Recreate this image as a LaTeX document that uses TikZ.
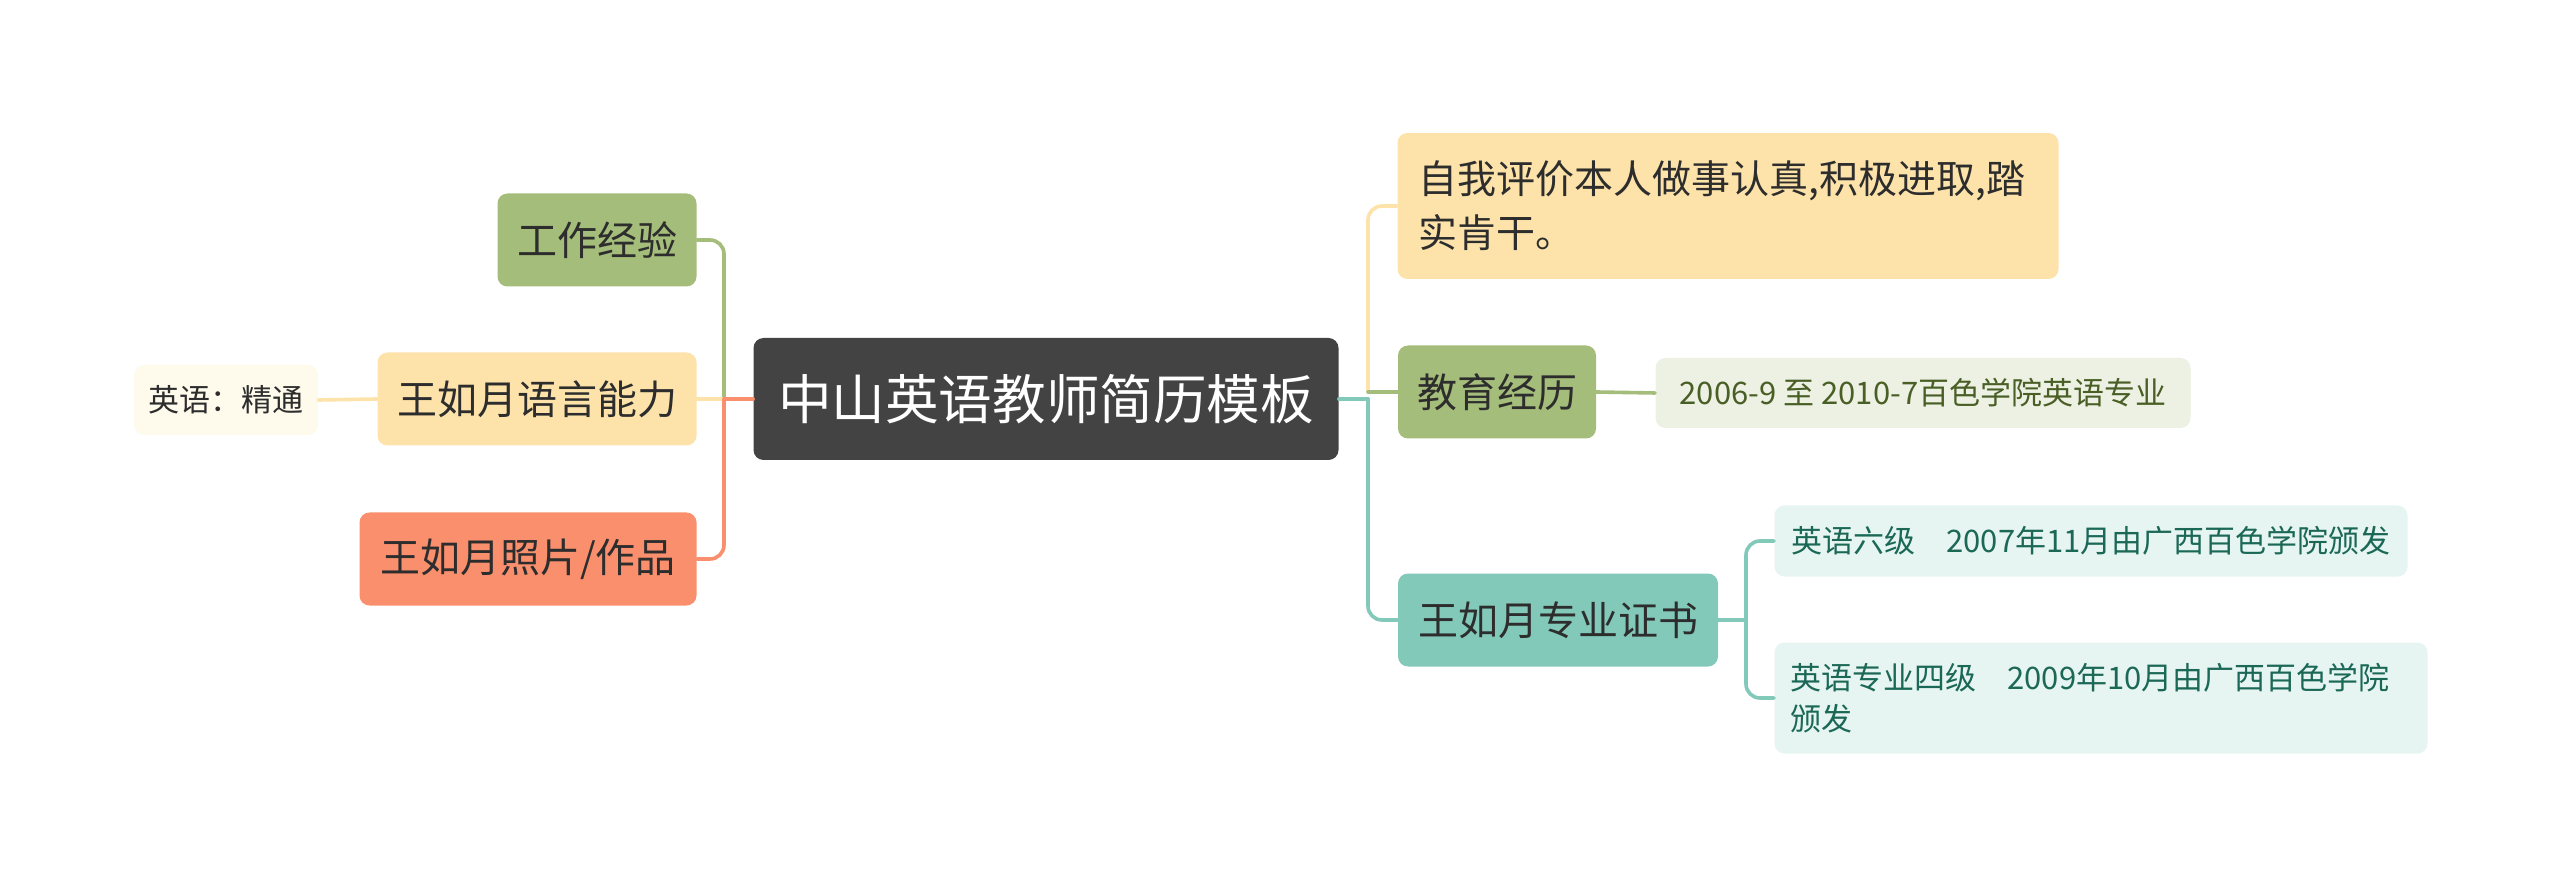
\documentclass[tikz,border=0pt]{standalone}
\usepackage{fontspec}
\newfontfamily\cjk{Noto Sans CJK SC}
\usepackage{xcolor}
\usepackage{tikz}
\usetikzlibrary{positioning}
\definecolor{rootgray}{RGB}{67,67,67}
\definecolor{leafgreen}{RGB}{165,189,122}
\definecolor{sand}{RGB}{253,227,170}
\definecolor{salmon}{RGB}{250,143,110}
\definecolor{mint}{RGB}{130,201,186}
\definecolor{cream}{RGB}{254,250,236}
\definecolor{palegreen}{RGB}{237,241,227}
\definecolor{olivetext}{RGB}{74,95,38}
\definecolor{palemint}{RGB}{230,245,242}
\definecolor{minttext}{RGB}{28,104,86}
\definecolor{ink}{RGB}{45,45,45}

\begin{document}
\begin{tikzpicture}[
  x=0.5pt, y=-0.5pt,
  rootbox/.style={fill=rootgray, text=white, rounded corners=5pt, inner sep=0pt,
    font=\cjk\fontsize{26.8}{32}\selectfont, minimum width=292.5pt, minimum height=61pt},
  mainbox/.style={rounded corners=5pt, text=ink, inner sep=0pt,
    font=\cjk\fontsize{20}{26}\selectfont, minimum height=46.5pt},
  subbox/.style={rounded corners=5pt, inner sep=0pt,
    font=\cjk\fontsize{15.5}{20.5}\selectfont, minimum height=35.5pt},
  link/.style={line width=1.8pt, rounded corners=7pt, line cap=round}
]

% page
\fill[white] (0,0) rectangle (2560,887);
\useasboundingbox (0,0) rectangle (2560,887);

% centre
\node[rootbox] (root) at (1046,399) {中山英语教师简历模板};

% left side
\node[mainbox, fill=leafgreen, minimum width=99.5pt] (work) at (597,240) {工作经验};
\node[mainbox, fill=sand, minimum width=159.5pt] (lang) at (537,399) {王如月语言能力};
\node[mainbox, fill=salmon, minimum width=168.5pt] (photo) at (528,559) {王如月照片/作品};
\node[subbox, fill=cream, text=ink, minimum width=92pt, minimum height=35pt] (skill) at (226,400) {英语：精通};

% right side
\node[mainbox, fill=sand, minimum height=73pt, text width=309.5pt, inner xsep=10.5pt,
  align=left, font=\cjk\fontsize{19.5}{27}\selectfont] (self) at (1728,206)
  {自我评价本人做事认真,积极进取,踏\\实肯干。};
\node[mainbox, fill=leafgreen, minimum width=99pt] (edu) at (1497,392) {教育经历};
\node[subbox, fill=palegreen, text=olivetext, minimum width=267.5pt, minimum height=35pt] (school) at (1923,393)
  {2006-9 至 2010-7百色学院英语专业};
\node[mainbox, fill=mint, minimum width=160pt] (cert) at (1558,620) {王如月专业证书};
\node[subbox, fill=palemint, text=minttext, minimum width=316.5pt] (cet6) at (2091,541)
  {英语六级　2007年11月由广西百色学院颁发};
\node[subbox, fill=palemint, text=minttext, minimum height=55.5pt, text width=310.5pt,
  inner xsep=8pt, align=left] (tem4) at (2101,698)
  {英语专业四级　2009年10月由广西百色学院\\颁发};

% junctions
\coordinate (lj) at (724,399);
\coordinate (rj) at (1368,399);
\coordinate (cj) at (1746,620);

% left links
\draw[link, draw=leafgreen] (work.east) -| (lj);
\draw[link, draw=sand] (skill.east) -- (lang.west);
\draw[link, draw=sand] (lang.east) -- (lj);
\draw[link, draw=salmon] (photo.east) -| (lj);
\draw[link, draw=salmon] (lj) -- (root.west);

% right links
\draw[link, draw=sand] (self.west) -| (edu.west -| rj);
\draw[link, draw=leafgreen] (edu.west -| rj) -- (edu.west);
\draw[link, draw=mint] (cert.west) -| (rj);
\draw[link, draw=mint] (rj) -- (root.east);
\draw[link, draw=leafgreen] (edu.east) -- (school.west);
\draw[link, draw=mint] (cert.east) -- (cj);
\draw[link, draw=mint] (cet6.west) -| (cj);
\draw[link, draw=mint] (tem4.west) -| (cj);

\end{tikzpicture}
\end{document}
